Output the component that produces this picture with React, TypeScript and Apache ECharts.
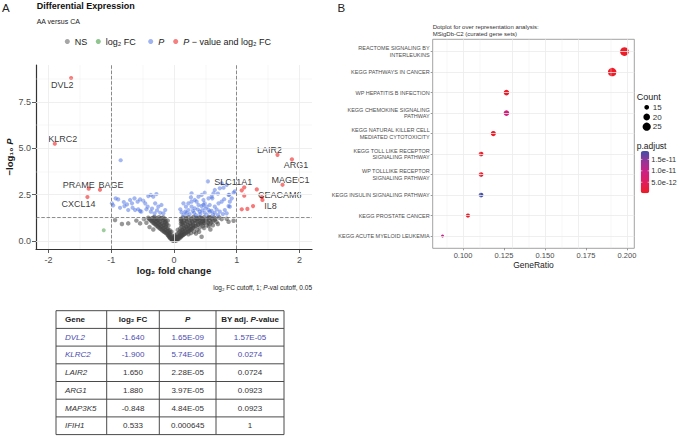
import React, { useEffect, useRef } from "react";
import * as echarts from "echarts";

const FONT = '"Liberation Sans", Arial, Helvetica, sans-serif';

// ---------------- Panel A : volcano data (log2 FC, -log10 P) ----------------
const nsPoints: [number, number][] = [
  [-0.02, 0.02], [0.01, 0.01], [0.03, 0.03], [-0.03, 0.06], [0.0, 0.07], [0.05, 0.05], [-0.05, 0.12], [0.02, 0.1],
  [0.07, 0.11], [-0.01, 0.15], [0.04, 0.17], [0.09, 0.16], [-0.07, 0.2], [0.0, 0.21], [0.06, 0.23], [0.11, 0.22],
  [-0.04, 0.26], [0.08, 0.29], [0.13, 0.28], [-0.09, 0.3], [0.02, 0.31], [0.1, 0.35], [-0.06, 0.36], [0.15, 0.34],
  [-0.11, 0.4], [0.05, 0.38], [0.12, 0.41], [0.17, 0.4], [-0.08, 0.44], [-0.14, 0.47], [0.08, 0.46], [0.15, 0.48],
  [0.2, 0.47], [-0.04, 0.5], [-0.11, 0.52], [-0.17, 0.55], [0.1, 0.53], [0.18, 0.55], [0.23, 0.54], [-0.07, 0.58],
  [-0.14, 0.6], [-0.2, 0.63], [0.06, 0.6], [0.13, 0.61], [0.21, 0.63], [0.27, 0.62], [-0.1, 0.67], [-0.17, 0.7],
  [-0.23, 0.72], [0.1, 0.68], [0.16, 0.7], [0.24, 0.71], [0.3, 0.7], [-0.13, 0.76], [-0.2, 0.78], [-0.26, 0.8],
  [0.12, 0.77], [0.19, 0.78], [0.27, 0.8], [0.34, 0.79], [-0.09, 0.84], [-0.16, 0.85], [-0.23, 0.87], [-0.29, 0.9],
  [0.15, 0.85], [0.22, 0.87], [0.3, 0.88], [0.38, 0.88], [-0.12, 0.93], [-0.19, 0.95], [-0.26, 0.96], [-0.32, 0.98],
  [0.11, 0.93], [0.18, 0.94], [0.26, 0.96], [0.34, 0.97], [0.42, 0.96], [0.49, 0.95], [-0.15, 1.02], [-0.22, 1.04],
  [-0.29, 1.05], [-0.35, 1.07], [0.13, 1.02], [0.21, 1.03], [0.29, 1.05], [0.37, 1.06], [0.45, 1.05], [0.53, 1.04],
  [-0.1, 1.1], [-0.18, 1.11], [-0.25, 1.13], [-0.32, 1.14], [-0.38, 1.16], [0.11, 1.08], [0.16, 1.11], [0.24, 1.13],
  [0.33, 1.14], [0.41, 1.15], [0.49, 1.13], [0.57, 1.12], [-0.14, 1.19], [-0.21, 1.2], [-0.28, 1.22], [-0.35, 1.23],
  [-0.41, 1.25], [0.11, 1.19], [0.19, 1.2], [0.28, 1.21], [0.36, 1.23], [0.44, 1.22], [0.52, 1.21], [0.6, 1.2],
  [-0.17, 1.27], [-0.24, 1.28], [-0.31, 1.29], [0.14, 1.27], [0.23, 1.28], [0.31, 1.29], [0.4, 1.27], [0.48, 1.28],
  [0.56, 1.29], [0.64, 1.27],
  [-0.03, 0.09], [-0.06, 0.16], [-0.08, 0.24], [-0.1, 0.33], [-0.13, 0.43], [-0.16, 0.5], [-0.19, 0.58], [-0.22, 0.66],
  [-0.25, 0.74], [-0.28, 0.83], [-0.31, 0.92], [-0.34, 1.0], [-0.37, 1.1], [-0.4, 1.19], [-0.06, 0.47], [-0.09, 0.55],
  [-0.12, 0.64], [-0.15, 0.73], [-0.18, 0.82], [-0.21, 0.91], [-0.24, 0.99], [-0.27, 1.08], [-0.3, 1.17], [-0.33, 1.26],
  [-0.13, 1.06], [-0.16, 1.15], [-0.2, 1.24], [-0.12, 0.88], [-0.14, 0.98], [-0.27, 1.18],
  [0.04, 0.13], [0.07, 0.19], [0.1, 0.26], [0.13, 0.32], [0.16, 0.37], [0.19, 0.43], [0.22, 0.49], [0.25, 0.56],
  [0.28, 0.63], [0.31, 0.72], [0.35, 0.82], [0.39, 0.91], [0.43, 1.0], [0.47, 1.08], [0.51, 1.17], [0.55, 1.24],
  [0.59, 1.0], [0.57, 0.9], [0.52, 0.85], [0.46, 0.8], [0.41, 0.72], [0.37, 0.6], [0.32, 0.5], [0.27, 0.43],
  [0.23, 0.36], [0.12, 0.48], [0.14, 0.57], [0.17, 0.66], [0.2, 0.74], [0.23, 0.83], [0.26, 0.91], [0.3, 0.98],
  [0.34, 1.09], [0.38, 1.18], [0.42, 1.26], [0.46, 1.19], [0.5, 1.06], [0.54, 0.98], [0.62, 1.06], [0.66, 1.2],
  [0.68, 1.02], [0.35, 1.25], [0.27, 1.14], [0.2, 1.06], [0.15, 0.98], [0.13, 0.9], [0.12, 1.14], [0.19, 1.25],
  [0.58, 1.26], [0.44, 0.9], [0.4, 1.08], [0.48, 0.98], [0.31, 0.8], [0.25, 0.65],
  [-0.01, 0.04], [0.02, 0.06], [0.05, 0.09], [-0.03, 0.13], [0.06, 0.15], [0.03, 0.2], [-0.05, 0.22], [0.09, 0.24],
  [0.0, 0.27], [0.12, 0.3], [-0.07, 0.32],
  [-0.94, 1.13], [-0.83, 0.92], [-0.73, 0.95], [-0.54, 0.95], [-0.48, 1.18], [-0.44, 0.98], [-0.6, 1.1],
  [-0.39, 0.75], [-0.33, 0.62], [0.65, 1.13], [0.87, 1.04], [0.95, 1.09], [0.76, 1.18], [0.7, 0.92], [0.44, 0.23],
  [0.58, 0.62], [0.72, 1.27], [0.84, 1.2], [0.55, 0.8], [0.62, 0.85], [0.4, 0.5], [0.35, 0.4], [0.48, 0.7],
];
const fcOnlyPoints: [number, number][] = [[-1.12, 0.58]];
const pOnlyPoints: [number, number][] = [
  [-0.85, 4.35], [-0.99, 2.03], [-0.97, 1.92], [-0.89, 2.24], [-0.93, 2.3], [-0.86, 1.79], [-0.79, 1.88],
  [-0.75, 1.97], [-0.73, 1.67], [-0.7, 2.21], [-0.67, 2.03], [-0.66, 1.79], [-0.63, 2.3], [-0.62, 1.67],
  [-0.58, 2.12], [-0.57, 1.71], [-0.54, 2.24], [-0.54, 1.61], [-0.52, 1.58], [-0.49, 2.17], [-0.46, 2.03],
  [-0.44, 1.71], [-0.41, 2.42], [-0.37, 2.48], [-0.37, 1.58], [-0.33, 2.39], [-0.31, 1.49], [-0.3, 2.03],
  [-0.28, 2.53], [-0.25, 1.85], [-0.22, 1.52], [-0.2, 1.94], [-0.17, 1.49], [-0.14, 1.67], [-0.8, 2.1],
  [-0.42, 1.85], [-0.35, 1.75], [-0.27, 1.65],
  [0.54, 3.21], [0.79, 2.87], [0.88, 2.49], [0.97, 2.68], [0.28, 2.57], [0.27, 2.35], [0.33, 2.21], [0.39, 2.39],
  [0.44, 2.48], [0.49, 2.6], [0.47, 2.21], [0.55, 2.3], [0.6, 2.39], [0.63, 2.57], [0.65, 2.75], [0.73, 2.84],
  [0.84, 3.02], [0.76, 3.11], [0.87, 2.48], [0.89, 2.12], [0.87, 1.88], [0.76, 2.12], [0.71, 2.03], [0.65, 1.85],
  [0.57, 1.94], [0.52, 1.85], [0.44, 1.88], [0.39, 1.94], [0.33, 1.76], [0.28, 1.85], [0.23, 1.67], [0.18, 1.58],
  [0.15, 2.03], [0.1, 1.71], [0.32, 1.52], [0.41, 1.58], [0.49, 1.52], [0.57, 1.58], [0.65, 1.52], [0.73, 1.58],
  [0.81, 1.67], [0.36, 2.12], [0.49, 2.03], [0.28, 2.12], [0.84, 1.49], [0.23, 2.03], [0.19, 1.85], [0.61, 2.3],
  [0.89, 1.85], [0.45, 1.65], [0.5, 1.75], [0.55, 1.68], [0.6, 1.62], [0.42, 1.45], [0.52, 1.42], [0.62, 1.42],
  [0.35, 1.4], [0.25, 1.45], [0.15, 1.4], [0.7, 1.4], [0.78, 1.45], [0.68, 1.7], [0.47, 1.95], [0.38, 1.7],
  [0.3, 1.62], [0.2, 1.5], [0.12, 1.55], [0.95, 2.6], [0.7, 2.55], [0.8, 2.25], [0.92, 2.3],
];
const sigGenes = ["DVL2", "KLRC2", "LAIR2", "ARG1", "MAGEC1", "PRAME", "BAGE", "CXCL14", "SLC11A1", "CEACAM6", "IL8"];
const sigFC = [-1.64, -1.9, 1.65, 1.88, 1.73, -1.36, -1.18, -1.38, 1.12, 1.4, 1.41];
const sigLogP = [8.78, 5.24, 4.64, 4.4, 3.03, 2.82, 2.76, 2.37, 2.89, 2.37, 2.21];
const sigOther: [number, number][] = [[1.08, 2.73], [1.12, 2.44], [1.32, 2.78], [1.08, 1.71], [1.17, 1.73], [1.26, 1.88]];
const fcCutoff = 1;
const pCutoff = 0.05;
const volcanoXTicks = [-2, -1, 0, 1, 2];
const volcanoXMinor = [-1.5, -0.5, 0.5, 1.5];
const volcanoYTicks = [0, 2.5, 5, 7.5];
const volcanoYMinor = [1.25, 3.75, 6.25, 8.75];
const legendNames = ["NS", "log₂ FC", "P", "P − value and log₂ FC"];

// label placement (style only)
const labelOffsets: Record<string, [number, number]> = {
  DVL2: [-9, 7], KLRC2: [8, -5], LAIR2: [-8, -5], ARG1: [4, 6], MAGEC1: [8, -5], PRAME: [-10, -4],
  BAGE: [11, -5], CXCL14: [-9, 7], SLC11A1: [-11, -5], CEACAM6: [18, -2], IL8: [8, 6],
};

// ---------------- Table ----------------
const tableGenes = ["DVL2", "KLRC2", "LAIR2", "ARG1", "MAP3K5", "IFIH1"];
const tableLog2FC = ["-1.640", "-1.900", "1.650", "1.880", "-0.848", "0.533"];
const tableP = ["1.65E-09", "5.74E-06", "2.28E-05", "3.97E-05", "4.84E-05", "0.000645"];
const tableAdjP = ["1.57E-05", "0.0274", "0.0724", "0.0923", "0.0923", "1"];
const tableHighlight = [true, true, false, false, false, false];

// ---------------- Panel B : dotplot ----------------
const pathways = [
  "REACTOME SIGNALING BY\nINTERLEUKINS",
  "KEGG PATHWAYS IN CANCER",
  "WP HEPATITIS B INFECTION",
  "KEGG CHEMOKINE SIGNALING\nPATHWAY",
  "KEGG NATURAL KILLER CELL\nMEDIATED CYTOTOXICITY",
  "KEGG TOLL LIKE RECEPTOR\nSIGNALING PATHWAY",
  "WP TOLLLIKE RECEPTOR\nSIGNALING PATHWAY",
  "KEGG INSULIN SIGNALING PATHWAY",
  "KEGG PROSTATE CANCER",
  "KEGG ACUTE MYELOID LEUKEMIA",
];
const geneRatio = [0.1985, 0.191, 0.1265, 0.1265, 0.1185, 0.111, 0.111, 0.111, 0.103, 0.0875];
const geneCount = [27, 26, 17, 17, 16, 15, 15, 15, 14, 12];
const pAdjust = [2e-13, 3e-13, 5e-13, 8.5e-12, 4e-13, 6e-13, 7e-13, 1.85e-11, 3e-13, 1.0e-11];
const ratioTicks = [0.1, 0.125, 0.15, 0.175, 0.2];
const ratioMinor = [0.0875, 0.1125, 0.1375, 0.1625, 0.1875];
const countLegend = [15, 20, 25];
const padjLegend = [1.5e-11, 1e-11, 5e-12];
const padjLegendLabels = ["1.5e-11", "1.0e-11", "5.0e-12"];
const padjMin = 1.5e-13;
const padjMax = 1.87e-11;

const cMin = Math.min(...geneCount);
const cMax = Math.max(...geneCount);
const sizeFor = (c: number) => Math.sqrt(9 + ((c - cMin) / (cMax - cMin)) * (76 - 9));

function buildOption() {
  const nB = pathways.length;
  const yNames = pathways.map((_, i) => pathways[nB - 1 - i]); // bottom to top
  const dotData = pathways.map((_, i) => [geneRatio[i], nB - 1 - i, geneCount[i], pAdjust[i]]);

  const gridLine = (w: number) => ({ lineStyle: { width: w, color: "#ebebeb", type: "solid" } });

  const sigData: any[] = sigGenes.map((g, i) => ({
    value: [sigFC[i], sigLogP[i]],
    name: g,
    label: { show: true, offset: labelOffsets[g] },
  }));
  sigOther.forEach((p) => sigData.push({ value: p, name: "", label: { show: false } }));

  const legendColors = ["#a6a6a6", "#90c590", "#a0b4f0", "#f68080"];
  const legendLefts = [64.8, 95.8, 148.2, 173.2];
  const legendFmt = (name: string) =>
    name === "P" ? "{i|P}" : name.startsWith("P ") ? "{i|P}" + name.slice(1) : name;

  // table graphics
  const colX = [56, 106.7, 159.3, 216, 284];
  const rowTop = 310.7;
  const rowH = 17.7;
  const nRows = tableGenes.length + 1;
  const tableEls: any[] = [];
  for (let r = 0; r <= nRows; r++) {
    tableEls.push({
      type: "line",
      shape: { x1: colX[0], y1: rowTop + r * rowH, x2: colX[4], y2: rowTop + r * rowH },
      style: { stroke: "#4a4a4a", lineWidth: 1 },
    });
  }
  colX.forEach((x) =>
    tableEls.push({
      type: "line",
      shape: { x1: x, y1: rowTop, x2: x, y2: rowTop + nRows * rowH },
      style: { stroke: "#4a4a4a", lineWidth: 1 },
    })
  );
  const headerRich = {
    h: { fontFamily: FONT, fontSize: 8, fontWeight: "bold", fill: "#222" },
    hi: { fontFamily: FONT, fontSize: 8, fontWeight: "bold", fontStyle: "italic", fill: "#222" },
  };
  const headers = ["{h|Gene}", "{h|log₂ FC}", "{hi|P}", "{h|BY adj. }{hi|P}{h|-value}"];
  headers.forEach((h, c) =>
    tableEls.push({
      type: "text",
      x: c === 0 ? colX[0] + 9 : (colX[c] + colX[c + 1]) / 2,
      y: rowTop + rowH / 2,
      style: { text: h, rich: headerRich, align: c === 0 ? "left" : "center", verticalAlign: "middle" },
    })
  );
  tableGenes.forEach((g, r) => {
    const color = tableHighlight[r] ? "#4a4aad" : "#333";
    const cy = rowTop + (r + 1) * rowH + rowH / 2;
    const cells = [g, tableLog2FC[r], tableP[r], tableAdjP[r]];
    cells.forEach((t, c) =>
      tableEls.push({
        type: "text",
        x: c === 0 ? colX[0] + 9 : (colX[c] + colX[c + 1]) / 2,
        y: cy,
        style: {
          text: t,
          fontFamily: FONT,
          fontSize: 8,
          fontStyle: c === 0 ? "italic" : "normal",
          fill: color,
          align: c === 0 ? "left" : "center",
          verticalAlign: "middle",
        },
      })
    );
  });

  // colorbar geometry
  const cbLeft = 640.7;
  const cbTop = 151;
  const cbW = 8.6;
  const cbH = 42.3;
  const padjY = (v: number) => cbTop + ((padjMax - v) / (padjMax - padjMin)) * cbH;
  const legendEls: any[] = [
    { type: "text", x: 636.7, y: 97, style: { text: "Count", fontFamily: FONT, fontSize: 9, fill: "#1a1a1a", verticalAlign: "middle" } },
    { type: "text", x: 636.7, y: 146, style: { text: "p.adjust", fontFamily: FONT, fontSize: 8.5, fill: "#1a1a1a", verticalAlign: "middle" } },
  ];
  countLegend.forEach((c, i) => {
    const cy = 107.3 + i * 9.7;
    legendEls.push({ type: "circle", shape: { cx: 646.7, cy, r: sizeFor(c) / 2 }, style: { fill: "#000" } });
    legendEls.push({
      type: "text",
      x: 652.8,
      y: cy,
      style: { text: String(c), fontFamily: FONT, fontSize: 8, fill: "#333", verticalAlign: "middle" },
    });
  });
  padjLegend.forEach((v, i) => {
    const y = padjY(v);
    legendEls.push({
      type: "text",
      x: 651.3,
      y,
      style: { text: padjLegendLabels[i], fontFamily: FONT, fontSize: 7.5, fill: "#333", verticalAlign: "middle" },
    });
    legendEls.push({ type: "line", shape: { x1: cbLeft, y1: y, x2: cbLeft + 1.7, y2: y }, style: { stroke: "#fff", lineWidth: 0.6 }, z: 100 });
    legendEls.push({ type: "line", shape: { x1: cbLeft + cbW - 1.7, y1: y, x2: cbLeft + cbW, y2: y }, style: { stroke: "#fff", lineWidth: 0.6 }, z: 100 });
  });

  return {
    animation: false,
    textStyle: { fontFamily: FONT },
    grid: [
      { left: 36, top: 65, width: 276, height: 184 },
      { left: 432.7, top: 39.3, width: 201.6, height: 209, show: true, borderColor: "#8a8a8a", borderWidth: 0.8, backgroundColor: "transparent" },
    ],
    legend: legendNames.map((n, i) => ({
      left: legendLefts[i],
      top: 37,
      padding: 0,
      itemWidth: 5,
      itemHeight: 5,
      icon: "circle",
      selectedMode: false,
      data: [{ name: n, itemStyle: { color: legendColors[i], opacity: 1 } }],
      formatter: legendFmt,
      textStyle: {
        fontFamily: FONT,
        fontSize: 9,
        color: "#1a1a1a",
        rich: { i: { fontFamily: FONT, fontSize: 9, fontStyle: "italic", color: "#1a1a1a" } },
      },
    })),
    visualMap: {
      type: "continuous",
      seriesIndex: 7,
      dimension: 3,
      min: padjMin,
      max: padjMax,
      left: cbLeft,
      top: cbTop,
      padding: 0,
      itemWidth: cbW,
      itemHeight: cbH,
      calculable: false,
      hoverLink: false,
      inRange: { color: ["#EE1C25", "#E01D5C", "#CD1F84", "#9A3497", "#3F4FA8"] },
    },
    xAxis: [
      {
        type: "value",
        gridIndex: 0,
        min: -2.2,
        max: 2.2,
        axisLine: { onZero: false, lineStyle: { color: "#333", width: 1.2 } },
        axisTick: { show: true, length: 4, customValues: volcanoXTicks, lineStyle: { color: "#333", width: 0.8 } },
        axisLabel: { customValues: volcanoXTicks, fontSize: 9, color: "#4d4d4d", margin: 6, fontFamily: FONT },
        splitLine: { show: false },
        name: "log₂ fold change",
        nameLocation: "middle",
        nameGap: 16,
        nameTextStyle: { fontFamily: FONT, fontSize: 9.5, fontWeight: "bold", color: "#1a1a1a" },
      },
      {
        type: "value",
        gridIndex: 1,
        min: 0.0815,
        max: 0.2045,
        axisLine: { show: false, onZero: false },
        axisTick: { show: true, length: 2, customValues: ratioTicks, lineStyle: { color: "#555", width: 0.6 } },
        axisLabel: {
          customValues: ratioTicks,
          formatter: (v: number) => v.toFixed(3),
          fontSize: 7.5,
          color: "#4d4d4d",
          margin: 3,
          fontFamily: FONT,
        },
        splitLine: { show: false },
        name: "GeneRatio",
        nameLocation: "middle",
        nameGap: 12,
        nameTextStyle: { fontFamily: FONT, fontSize: 8.5, color: "#1a1a1a" },
      },
    ],
    yAxis: [
      {
        type: "value",
        gridIndex: 0,
        min: -0.43,
        max: 9.48,
        axisLine: { show: true, onZero: false, lineStyle: { color: "#333", width: 1.2 } },
        axisTick: { show: true, length: 4, customValues: volcanoYTicks, lineStyle: { color: "#333", width: 0.8 } },
        axisLabel: {
          customValues: volcanoYTicks,
          formatter: (v: number) => v.toFixed(1),
          fontSize: 9,
          color: "#4d4d4d",
          margin: 5,
          fontFamily: FONT,
        },
        splitLine: { show: false },
        name: "{b|−log₁₀ }{bi|P}",
        nameLocation: "middle",
        nameGap: 20,
        nameTextStyle: {
          rich: {
            b: { fontFamily: FONT, fontSize: 9.5, fontWeight: "bold", color: "#1a1a1a" },
            bi: { fontFamily: FONT, fontSize: 9.5, fontWeight: "bold", fontStyle: "italic", color: "#1a1a1a" },
          },
        },
      },
      {
        type: "value",
        gridIndex: 1,
        min: -0.6,
        max: nB - 1 + 0.6,
        axisLine: { show: false, onZero: false },
        axisTick: { show: true, length: 2, customValues: yNames.map((_, i) => i), lineStyle: { color: "#555", width: 0.6 } },
        axisLabel: {
          customValues: yNames.map((_, i) => i),
          formatter: (v: number) => yNames[Math.round(v)] || "",
          fontSize: 5.5,
          lineHeight: 6.6,
          color: "#4d4d4d",
          margin: 3,
          fontFamily: FONT,
        },
        splitLine: { show: false },
      },
    ],
    series: [
      {
        type: "scatter",
        xAxisIndex: 0,
        yAxisIndex: 0,
        data: [],
        z: 1,
        silent: true,
        markLine: {
          silent: true,
          symbol: ["none", "none"],
          label: { show: false },
          animation: false,
          lineStyle: { color: "#ebebeb", type: "solid" },
          data: [
            ...volcanoXTicks.map((v) => ({ xAxis: v, ...gridLine(0.8) })),
            ...volcanoXMinor.map((v) => ({ xAxis: v, ...gridLine(0.4) })),
            ...volcanoYTicks.map((v) => ({ yAxis: v, ...gridLine(0.8) })),
            ...volcanoYMinor.map((v) => ({ yAxis: v, ...gridLine(0.4) })),
          ],
        },
      },
      {
        name: legendNames[0],
        type: "scatter",
        xAxisIndex: 0,
        yAxisIndex: 0,
        data: nsPoints,
        symbolSize: 4.5,
        z: 2,
        itemStyle: { color: "rgba(70,70,70,0.7)" },
      },
      {
        name: legendNames[1],
        type: "scatter",
        xAxisIndex: 0,
        yAxisIndex: 0,
        data: fcOnlyPoints,
        symbolSize: 4,
        z: 2,
        itemStyle: { color: "rgba(34,139,34,0.55)" },
      },
      {
        name: legendNames[2],
        type: "scatter",
        xAxisIndex: 0,
        yAxisIndex: 0,
        data: pOnlyPoints,
        symbolSize: 4.2,
        z: 2,
        itemStyle: { color: "rgba(65,105,225,0.6)" },
      },
      {
        name: legendNames[3],
        type: "scatter",
        xAxisIndex: 0,
        yAxisIndex: 0,
        data: sigData,
        symbolSize: 4.2,
        z: 4,
        itemStyle: { color: "rgba(238,0,0,0.65)" },
        label: {
          position: "inside",
          formatter: "{b}",
          fontFamily: FONT,
          fontSize: 9,
          color: "#000",
          textBorderWidth: 0,
        },
      },
      {
        type: "scatter",
        xAxisIndex: 0,
        yAxisIndex: 0,
        data: [],
        z: 3,
        silent: true,
        markLine: {
          silent: true,
          symbol: ["none", "none"],
          label: { show: false },
          animation: false,
          lineStyle: { color: "#444", width: 0.6, type: [3.5, 1.8] },
          data: [{ xAxis: -fcCutoff }, { xAxis: fcCutoff }, { yAxis: -Math.log10(pCutoff) }],
        },
      },
      {
        type: "scatter",
        xAxisIndex: 1,
        yAxisIndex: 1,
        data: [],
        z: 1,
        silent: true,
        markLine: {
          silent: true,
          symbol: ["none", "none"],
          label: { show: false },
          animation: false,
          lineStyle: { color: "#ebebeb", type: "solid" },
          data: [
            ...ratioTicks.map((v) => ({ xAxis: v, ...gridLine(0.8) })),
            ...ratioMinor.map((v) => ({ xAxis: v, ...gridLine(0.4) })),
            ...yNames.map((_, i) => ({ yAxis: i, ...gridLine(0.8) })),
          ],
        },
      },
      {
        type: "scatter",
        xAxisIndex: 1,
        yAxisIndex: 1,
        data: dotData,
        z: 3,
        symbolSize: (v: number[]) => sizeFor(v[2]),
        itemStyle: { opacity: 1 },
      },
    ],
    graphic: [
      { type: "text", x: 2, y: 1.5, style: { text: "A", fontFamily: FONT, fontSize: 11.5, fill: "#222" } },
      { type: "text", x: 337.5, y: 1.5, style: { text: "B", fontFamily: FONT, fontSize: 11.5, fill: "#222" } },
      {
        type: "text",
        x: 36.7,
        y: 6.3,
        style: { text: "Differential Expression", fontFamily: FONT, fontSize: 9, fontWeight: "bold", fill: "#111", verticalAlign: "middle" },
      },
      {
        type: "text",
        x: 36.7,
        y: 21,
        style: { text: "AA versus CA", fontFamily: FONT, fontSize: 7, fill: "#222", verticalAlign: "middle" },
      },
      {
        type: "text",
        x: 312,
        y: 287.7,
        style: {
          text: "{n|log₂ FC cutoff, 1; }{i|P}{n|-val cutoff, 0.05}",
          align: "right",
          verticalAlign: "middle",
          rich: {
            n: { fontFamily: FONT, fontSize: 6.5, fill: "#222" },
            i: { fontFamily: FONT, fontSize: 6.5, fontStyle: "italic", fill: "#222" },
          },
        },
      },
      {
        type: "text",
        x: 432.7,
        y: 23.6,
        style: {
          text: "Dotplot for over representation analysis:\nMSigDb-C2 (curated gene sets)",
          fontFamily: FONT,
          fontSize: 6,
          lineHeight: 6.8,
          fill: "#333",
        },
      },
      ...legendEls,
      ...tableEls,
    ],
  };
}

export default function App() {
  const ref = useRef<HTMLDivElement>(null);
  useEffect(() => {
    document.body.style.margin = "0";
    const chart = echarts.init(ref.current as HTMLDivElement, undefined, { renderer: "svg" });
    chart.setOption(buildOption() as any);
    return () => chart.dispose();
  }, []);
  return <div ref={ref} style={{ width: 680, height: 436 }} />;
}
